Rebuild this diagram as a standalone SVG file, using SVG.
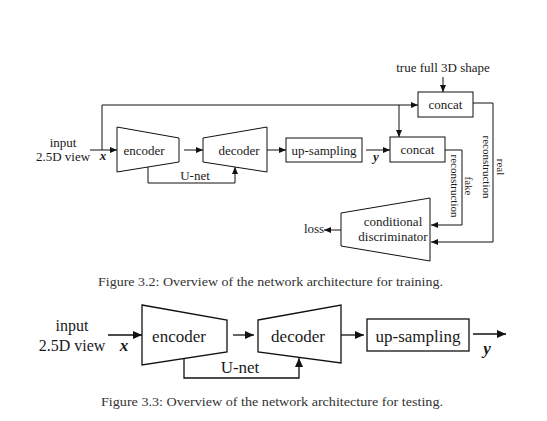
<svg xmlns="http://www.w3.org/2000/svg" width="547" height="421" viewBox="0 0 547 421">
<defs>
<marker id="a" markerUnits="userSpaceOnUse" markerWidth="7" markerHeight="6" refX="7" refY="3" orient="auto"><path d="M0,0 L7,3 L0,6 Z" fill="#111"/></marker>
<marker id="b" markerUnits="userSpaceOnUse" markerWidth="9" markerHeight="8" refX="9" refY="4" orient="auto"><path d="M0,0 L9,4 L0,8 Z" fill="#111"/></marker>
<style>
text{font-family:"Liberation Serif","Times New Roman",serif;fill:#1a1a1a}
.t{font-size:13px;text-anchor:middle}
.s{font-size:11px;text-anchor:middle}
.B{font-size:17px;text-anchor:middle}
.in{font-size:16px;text-anchor:middle}
.v{font-weight:bold;font-style:italic}
.cap{font-size:12px;fill:#333}
.n{fill:#fff;stroke:#111;stroke-width:1}
.n2{fill:#fff;stroke:#111;stroke-width:1.3}
.c{fill:none;stroke:#111;stroke-width:1}
.c2{fill:none;stroke:#111;stroke-width:1.3}
</style>
</defs>

<g id="connectors">
<path class="c" d="M90,150 L117,150" marker-end="url(#a)"/>
<path class="c" d="M102,150 L102,105 L418,105" marker-end="url(#a)"/>
<path class="c" d="M399,105 L399,137" marker-end="url(#a)"/>
<path class="c" d="M443,77 L443,92" marker-end="url(#a)"/>
<path class="c" d="M184,150 L203,150" marker-end="url(#a)"/>
<path class="c" d="M148,167 L148,183 L235,183 L235,167" marker-end="url(#a)"/>
<path class="c" d="M267,150 L286,150" marker-end="url(#a)"/>
<path class="c" d="M366,150 L390,150" marker-end="url(#a)"/>
<path class="c" d="M445,150 L462,150 L462,225 L431,225" marker-end="url(#a)"/>
<path class="c" d="M473,103 L493,103 L493,242 L431,242" marker-end="url(#a)"/>
<path class="c" d="M341,230 L324,230" marker-end="url(#a)"/>

<path class="c2" d="M108,335 L142,335" marker-end="url(#b)"/>
<path class="c2" d="M233,335 L254,335" marker-end="url(#b)"/>
<path class="c2" d="M184,359 L184,378 L299,378 L299,358" marker-end="url(#b)"/>
<path class="c2" d="M341,335 L364,335" marker-end="url(#b)"/>
<path class="c2" d="M473,334 L506,334" marker-end="url(#b)"/>
</g>

<g id="input-top">
<text class="t" x="63" y="147">input</text>
<text class="t" x="63" y="161">2.5D view</text>
<text class="t v" x="103" y="160">x</text>
</g>
<g id="encoder-top">
<polygon class="n" points="117,127 179,138 179,162 117,172"/>
<text class="t" x="144" y="155">encoder</text>
</g>
<g id="decoder-top">
<polygon class="n" points="203,138 267,127 267,172 203,162"/>
<text class="t" x="239" y="155">decoder</text>
</g>
<g id="unet-top"><text class="t" x="195" y="180">U-net</text></g>
<g id="upsampling-top">
<rect class="n" x="286" y="138" width="76" height="24"/>
<text class="t" x="324" y="155">up-sampling</text>
</g>
<g id="y-top"><text class="t v" x="376" y="161">y</text></g>
<g id="shape-label"><text class="t" x="443" y="72">true full 3D shape</text></g>
<g id="concat-top">
<rect class="n" x="418" y="92" width="55" height="25"/>
<text class="t" x="445.5" y="109">concat</text>
</g>
<g id="concat-mid">
<rect class="n" x="390" y="137" width="55" height="25"/>
<text class="t" x="417.5" y="154">concat</text>
</g>
<g id="real-label">
<text class="s" transform="translate(497,167) rotate(90)">real</text>
<text class="s" transform="translate(483,167) rotate(90)">reconstruction</text>
</g>
<g id="fake-label">
<text class="s" transform="translate(465,186) rotate(90)">fake</text>
<text class="s" transform="translate(451,186) rotate(90)">reconstruction</text>
</g>
<g id="discriminator">
<polygon class="n" points="341,213 430,198 430,261 341,246"/>
<text class="t" x="393" y="226">conditional</text>
<text class="t" x="393" y="241">discriminator</text>
</g>
<g id="loss"><text class="t" x="314" y="233">loss</text></g>

<g id="caption1"><text class="cap" x="98" y="286" textLength="345" lengthAdjust="spacingAndGlyphs">Figure 3.2: Overview of the network architecture for training.</text></g>

<g id="input-bottom">
<text class="in" x="72" y="331">input</text>
<text class="in" x="72" y="351">2.5D view</text>
<text class="B v" x="124" y="351">x</text>
</g>
<g id="encoder-bottom">
<polygon class="n2" points="142,305 227,320 227,352 142,365"/>
<text class="B" x="179" y="342">encoder</text>
</g>
<g id="decoder-bottom">
<polygon class="n2" points="258,320 341,305 341,363 258,352"/>
<text class="B" x="298" y="342">decoder</text>
</g>
<g id="unet-bottom"><text class="B" x="240" y="373">U-net</text></g>
<g id="upsampling-bottom">
<rect class="n2" x="367" y="319" width="102" height="32"/>
<text class="B" x="418" y="342">up-sampling</text>
</g>
<g id="y-bottom"><text class="B v" x="487" y="354">y</text></g>

<g id="caption2"><text class="cap" x="101" y="406" textLength="342" lengthAdjust="spacingAndGlyphs">Figure 3.3: Overview of the network architecture for testing.</text></g>
</svg>
